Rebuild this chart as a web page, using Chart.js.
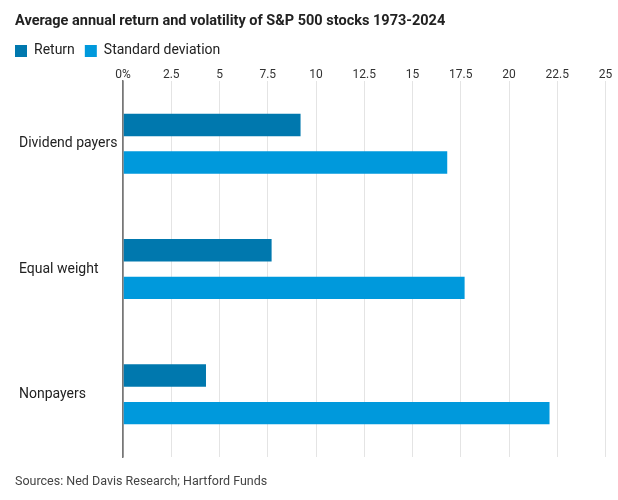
<!DOCTYPE html>
<html>
<head>
<meta charset="utf-8">
<script src="https://cdn.jsdelivr.net/npm/chart.js@4"></script>
<style>
html,body{margin:0;padding:0;background:#fff;}
#wrap{position:relative;width:618px;height:500px;}
</style>
</head>
<body>
<div id="wrap"><canvas id="c" width="618" height="500"></canvas></div>
<script>
const categories = ["Dividend payers", "Equal weight", "Nonpayers"];
const returnValues = [9.2, 7.7, 4.3];
const stdDevValues = [16.8, 17.7, 22.1];
const seriesNames = ["Return", "Standard deviation"];
const titleText = "Average annual return and volatility of S&P 500 stocks 1973-2024";
const sourceText = "Sources: Ned Davis Research; Hartford Funds";

const FONT = "Roboto";

const layoutShift = {
  id: 'layoutShift',
  afterLayout(chart) {
    if (chart.legend) chart.legend.left -= 10;
    if (chart.scales.y) chart.scales.y.left += 4;
  }
};

new Chart(document.getElementById('c'), {
  type: 'bar',
  data: {
    labels: categories,
    datasets: [
      { label: seriesNames[0], data: returnValues, backgroundColor: '#0078AE', borderWidth: 0 },
      { label: seriesNames[1], data: stdDevValues, backgroundColor: '#0099DC', borderWidth: 0 }
    ]
  },
  options: {
    indexAxis: 'y',
    responsive: false,
    animation: false,
    devicePixelRatio: 1,
    categoryPercentage: 0.6,
    barPercentage: 0.595,
    layout: { padding: { left: 15, right: 12.5, top: 0, bottom: 11 } },
    plugins: {
      title: {
        display: true, text: titleText, align: 'start', color: '#222',
        font: { family: FONT, size: 14.5, weight: 'bold', lineHeight: 1.2 },
        padding: { top: 12.5, bottom: 4 }
      },
      subtitle: {
        display: true, text: sourceText, align: 'start', position: 'bottom', color: '#444',
        font: { family: FONT, size: 12.5 },
        padding: { top: 17, bottom: 0 }
      },
      legend: {
        display: true, align: 'start', position: 'top',
        labels: {
          boxWidth: 12, boxHeight: 12, padding: 10, color: '#222',
          font: { family: FONT, size: 14 }
        }
      },
      tooltip: { enabled: false }
    },
    scales: {
      x: {
        position: 'top', min: 0, max: 25,
        ticks: {
          stepSize: 2.5, padding: 0, color: '#333',
          font: { family: FONT, size: 12, lineHeight: 1.1 },
          callback: (v) => v === 0 ? '0%' : String(v)
        },
        grid: {
          drawTicks: false,
          color: (ctx) => (ctx.tick && ctx.tick.value === 0) ? '#777' : '#e4e4e4',
          lineWidth: (ctx) => (ctx.tick && ctx.tick.value === 0) ? 1.5 : 1
        },
        border: { display: false }
      },
      y: {
        ticks: {
          crossAlign: 'far', color: '#222',
          font: { family: FONT, size: 14 }
        },
        grid: { display: false, drawTicks: false },
        border: { display: true, color: '#777', width: 1.5 },
        afterFit: (s) => { s.width = 108; }
      }
    }
  },
  plugins: [layoutShift]
});
</script>
</body>
</html>
